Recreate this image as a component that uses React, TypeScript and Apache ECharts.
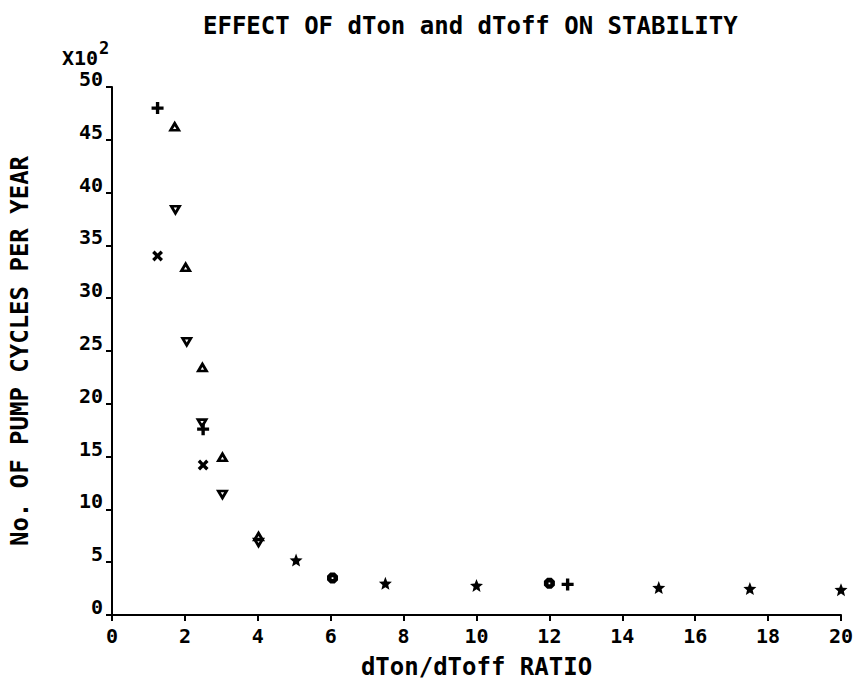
import React, { useEffect, useRef } from "react";
import * as echarts from "echarts";

const titleText = "EFFECT OF dTon and dToff ON STABILITY";
const xAxisTitle = "dTon/dToff RATIO";
const yAxisTitle = "No. OF PUMP CYCLES PER YEAR";
const yScaleBase = "X10";
const yScaleExp = "2";

const xTicks = [0, 2, 4, 6, 8, 10, 12, 14, 16, 18, 20];
const yTicks = [0, 5, 10, 15, 20, 25, 30, 35, 40, 45, 50];

// values in hundreds of pump cycles per year
const plusData = [[1.25, 48.0], [2.5, 17.6], [12.5, 2.9]];
const crossData = [[1.25, 34.0], [2.5, 14.2]];
const triUpData = [[1.72, 46.3], [2.02, 33.0], [2.48, 23.5], [3.03, 15.0], [4.02, 7.5]];
const triDownData = [[1.74, 38.3], [2.05, 25.8], [2.47, 18.1], [3.03, 11.35], [4.02, 6.8]];
const starData = [[5.05, 5.2], [7.5, 3.0], [10, 2.8], [15, 2.6], [17.5, 2.5], [20, 2.4]];
const octData = [[6.05, 3.5], [12, 3.0]];

const PLUS = "path://M3.6,0H6.4V3.6H10V6.4H6.4V10H3.6V6.4H0V3.6H3.6Z";
const TRI_UP = "path://M5,0L10,9L0,9Z M5,4.6L3.7,6.9L6.3,6.9Z";
const TRI_DOWN = "path://M0,0L10,0L5,9Z M3.7,2.1L5,4.4L6.3,2.1Z";
const STAR = "path://M5,0L6.29,3.22L9.76,3.45L7.09,5.68L7.94,9.05L5,7.2L2.06,9.05L2.91,5.68L0.24,3.45L3.71,3.22Z";
const OCT = "path://M3,0H7L10,3V7L7,10H3L0,7V3Z M4.2,4.2V5.8H5.8V4.2Z";

const FONT = "DejaVu Sans Mono";

export default function App() {
  const ref = useRef<HTMLDivElement>(null);
  useEffect(() => {
    document.body.style.margin = "0";
    const chart = echarts.init(ref.current!, null, { renderer: "svg" });
    const mk = (data: number[][], symbol: string, size: any, rotate = 0) => ({
      type: "scatter",
      data,
      symbol,
      symbolSize: size,
      symbolRotate: rotate,
      itemStyle: { color: "#000", opacity: 1 },
      emphasis: { disabled: true },
    });
    chart.setOption({
      animation: false,
      backgroundColor: "#fff",
      textStyle: { fontFamily: FONT, color: "#000" },
      title: {
        text: titleText,
        left: 198,
        top: 9,
        textStyle: { fontFamily: FONT, fontSize: 24, fontWeight: "bold", color: "#000" },
      },
      grid: { left: 107, right: 23, top: 87, bottom: 65 },
      xAxis: {
        type: "value",
        min: xTicks[0],
        max: xTicks[xTicks.length - 1],
        interval: 2,
        name: xAxisTitle,
        nameLocation: "middle",
        nameGap: 40,
        nameTextStyle: { fontFamily: FONT, fontSize: 24, fontWeight: "bold", color: "#000" },
        axisLine: { lineStyle: { color: "#000", width: 2 } },
        axisTick: { inside: false, length: 6, lineStyle: { color: "#000", width: 2 } },
        axisLabel: { fontFamily: FONT, fontSize: 20, fontWeight: "bold", color: "#000", margin: 11 },
        splitLine: { show: false },
      },
      yAxis: {
        type: "value",
        min: yTicks[0],
        max: yTicks[yTicks.length - 1],
        interval: 5,
        name: yAxisTitle,
        nameLocation: "middle",
        nameRotate: 90,
        nameGap: 80,
        nameTextStyle: { fontFamily: FONT, fontSize: 24, fontWeight: "bold", color: "#000" },
        axisLine: { show: true, lineStyle: { color: "#000", width: 2 } },
        axisTick: { show: true, inside: false, length: 6, lineStyle: { color: "#000", width: 2 } },
        axisLabel: {
          fontFamily: FONT,
          fontSize: 20,
          fontWeight: "bold",
          color: "#000",
          margin: 9,
          verticalAlign: "bottom",
          lineHeight: 16,
        },
        splitLine: { show: false },
      },
      graphic: [
        {
          type: "text",
          left: 62,
          top: 48,
          style: {
            text: yScaleBase,
            fill: "#000",
            fontFamily: FONT,
            fontSize: 20,
            fontWeight: "bold",
          },
        },
        {
          type: "text",
          left: 99,
          top: 39,
          style: {
            text: yScaleExp,
            fill: "#000",
            fontFamily: FONT,
            fontSize: 17,
            fontWeight: "bold",
          },
        },
      ],
      series: [
        mk(plusData, PLUS, 12),
        mk(crossData, PLUS, 12, 45),
        mk(triUpData, TRI_UP, [13, 11]),
        mk(triDownData, TRI_DOWN, [13, 11]),
        mk(starData, STAR, 13),
        mk(octData, OCT, 11),
      ],
    });
    return () => chart.dispose();
  }, []);
  return <div ref={ref} style={{ width: 864, height: 684 }} />;
}
